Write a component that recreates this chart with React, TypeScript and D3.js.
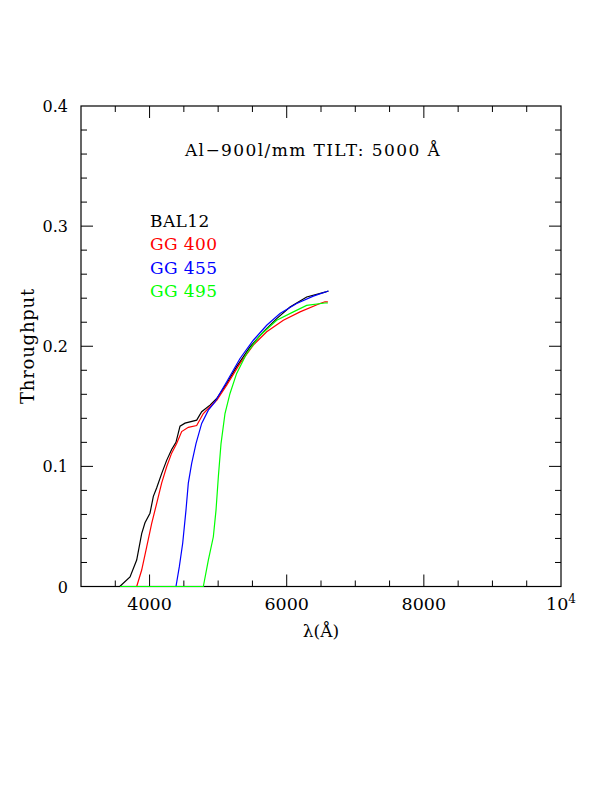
import { useEffect, useRef } from 'react';
import * as d3 from 'd3';

// wavelengths (Angstrom) and throughput
const balWave = [3565, 3715, 3812, 3885, 3933, 4006, 4055, 4103, 4176, 4249, 4322, 4385, 4444, 4517, 4687, 4760, 4881, 4979, 5125, 5270, 5465, 5659, 5854, 6048, 6291, 6558, 6610];
const balThru = [0, 0.008, 0.022, 0.044, 0.053, 0.061, 0.075, 0.082, 0.094, 0.105, 0.114, 0.12, 0.1335, 0.136, 0.1385, 0.1455, 0.151, 0.1565, 0.169, 0.183, 0.1995, 0.212, 0.223, 0.2327, 0.241, 0.245, 0.246];

const gg400Wave = [3812, 3885, 3958, 4031, 4103, 4176, 4249, 4322, 4395, 4468, 4565, 4687, 4784, 4881, 4979, 5125, 5319, 5513, 5708, 5951, 6194, 6485, 6558, 6600];
const gg400Thru = [0, 0.0137, 0.033, 0.0526, 0.069, 0.086, 0.0997, 0.111, 0.119, 0.129, 0.1325, 0.134, 0.144, 0.1496, 0.155, 0.1676, 0.1857, 0.201, 0.212, 0.2217, 0.2286, 0.2356, 0.237, 0.237];

const gg455Wave = [4385, 4434, 4483, 4531, 4565, 4614, 4677, 4760, 4857, 4954, 5125, 5319, 5513, 5708, 5902, 6145, 6388, 6606];
const gg455Thru = [0, 0.0165, 0.036, 0.0636, 0.086, 0.1025, 0.119, 0.1358, 0.1468, 0.1537, 0.1704, 0.1898, 0.205, 0.2175, 0.2273, 0.2356, 0.2417, 0.246];

const gg495Wave = [3570, 4784, 4857, 4930, 4969, 5003, 5042, 5100, 5173, 5270, 5416, 5610, 5854, 6097, 6291, 6558, 6600];
const gg495Thru = [0, 0, 0.022, 0.0414, 0.0636, 0.0913, 0.119, 0.144, 0.1607, 0.1774, 0.194, 0.209, 0.2217, 0.2286, 0.234, 0.236, 0.236];

const seriesNames = ['BAL12', 'GG 400', 'GG 455', 'GG 495'];
const seriesColors = ['#000000', '#ff0000', '#0000ff', '#00ff00'];
const seriesWave = [balWave, gg400Wave, gg455Wave, gg495Wave];
const seriesThru = [balThru, gg400Thru, gg455Thru, gg495Thru];

const xMajor = [4000, 6000, 8000, 10000];
const yMajor = [0, 0.1, 0.2, 0.3, 0.4];
const yLabels = ['0', '0.1', '0.2', '0.3', '0.4'];

const W = 612;
const H = 792;
const FONT = '"DejaVu Serif", serif';

export default function App() {
  const svgRef = useRef<SVGSVGElement>(null);

  useEffect(() => {
    if (!svgRef.current) return;
    const svg = d3.select(svgRef.current);
    svg.selectAll('*').remove();

    const left = 81, right = 561, top = 106, bottom = 586.5;
    const x = d3.scaleLinear([3000, 10000], [left, right]);
    const y = d3.scaleLinear([0, 0.4], [bottom, top]);

    // frame
    svg.append('rect').attr('x', left).attr('y', top)
      .attr('width', right - left).attr('height', bottom - top)
      .attr('fill', 'none').attr('stroke', '#000').attr('stroke-width', 1.2);

    // ticks on all four sides, pointing inward
    const xTicks = d3.range(3500, 10000, 500);
    xTicks.forEach(t => {
      const len = t % 2000 === 0 ? 12 : 6;
      svg.append('line').attr('x1', x(t)).attr('x2', x(t)).attr('y1', bottom).attr('y2', bottom - len).attr('stroke', '#000');
      svg.append('line').attr('x1', x(t)).attr('x2', x(t)).attr('y1', top).attr('y2', top + len).attr('stroke', '#000');
    });
    const yTicks = d3.range(1, 20).map(k => k * 0.02);
    yTicks.forEach((t, k) => {
      const len = (k + 1) % 5 === 0 ? 12 : 6;
      svg.append('line').attr('y1', y(t)).attr('y2', y(t)).attr('x1', left).attr('x2', left + len).attr('stroke', '#000');
      svg.append('line').attr('y1', y(t)).attr('y2', y(t)).attr('x1', right).attr('x2', right - len).attr('stroke', '#000');
    });

    // curves, drawn over the frame so the flat green baseline shows
    const line = d3.line<[number, number]>().x(d => x(d[0])).y(d => y(d[1]));
    seriesWave.forEach((wave, i) => {
      const pts = wave.map((w, j) => [w, seriesThru[i][j]] as [number, number]);
      svg.append('path').datum(pts).attr('d', line)
        .attr('fill', 'none').attr('stroke', seriesColors[i]).attr('stroke-width', 1.2);
    });

    // tick labels
    xMajor.forEach(t => {
      const txt = svg.append('text').attr('x', x(t)).attr('y', 610)
        .attr('text-anchor', 'middle').attr('font-family', FONT).attr('font-size', 17.5);
      if (t === 10000) {
        txt.append('tspan').text('10');
        txt.append('tspan').attr('dy', -7).attr('font-size', 12).text('4');
      } else {
        txt.text(String(t));
      }
    });
    yMajor.forEach((t, i) => {
      svg.append('text').attr('x', 68).attr('y', y(t) + 6)
        .attr('text-anchor', 'end').attr('font-family', FONT).attr('font-size', 16).text(yLabels[i]);
    });

    // axis titles
    svg.append('text').attr('x', 321).attr('y', 637).attr('text-anchor', 'middle')
      .attr('font-family', FONT).attr('font-size', 17).text('λ(Å)');
    svg.append('text').attr('transform', 'translate(34,346) rotate(-90)').attr('text-anchor', 'middle')
      .attr('font-family', FONT).attr('font-size', 18).attr('letter-spacing', 0.8).text('Throughput');

    // title
    svg.append('text').attr('x', 313).attr('y', 156).attr('text-anchor', 'middle')
      .attr('font-family', FONT).attr('font-size', 17).attr('letter-spacing', 1.4)
      .text('Al\u2212900l/mm TILT: 5000 Å');

    // legend
    seriesNames.forEach((name, i) => {
      svg.append('text').attr('x', 150).attr('y', 226.5 + i * 23.5)
        .attr('font-family', FONT).attr('font-size', 17).attr('letter-spacing', 0.4)
        .attr('fill', seriesColors[i]).text(name);
    });
  }, []);

  return (
    <svg ref={svgRef} width={W} height={H}
      style={{ position: 'absolute', left: 0, top: 0, background: '#fff' }} />
  );
}
